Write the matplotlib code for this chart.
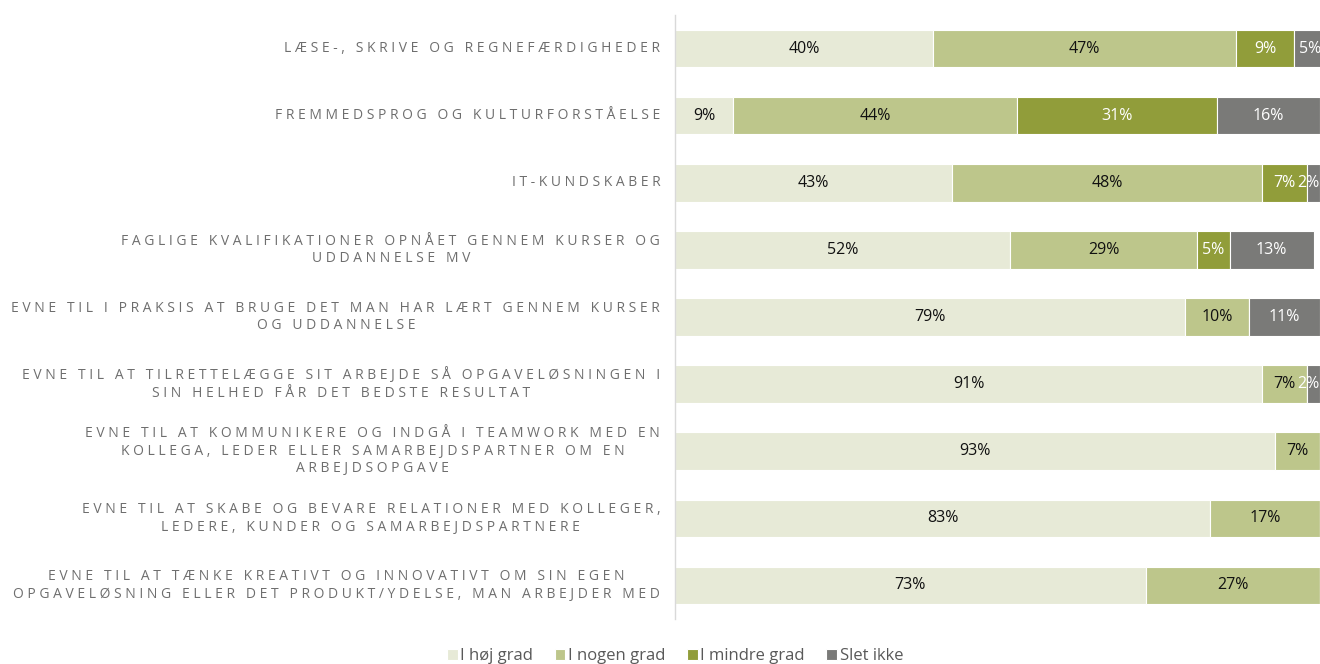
import matplotlib
matplotlib.use("Agg")
import matplotlib.pyplot as plt
import numpy as np

categories = [
    "LÆSE-, SKRIVE OG REGNEFÆRDIGHEDER",
    "FREMMEDSPROG OG KULTURFORSTÅELSE",
    "IT-KUNDSKABER",
    "FAGLIGE KVALIFIKATIONER OPNÅET GENNEM KURSER OG\nUDDANNELSE MV",
    "EVNE TIL I PRAKSIS AT BRUGE DET MAN HAR LÆRT GENNEM KURSER\nOG UDDANNELSE",
    "EVNE TIL AT TILRETTELÆGGE SIT ARBEJDE SÅ OPGAVELØSNINGEN I\nSIN HELHED FÅR DET BEDSTE RESULTAT",
    "EVNE TIL AT KOMMUNIKERE OG INDGÅ I TEAMWORK MED EN\nKOLLEGA, LEDER ELLER SAMARBEJDSPARTNER OM EN\nARBEJDSOPGAVE",
    "EVNE TIL AT SKABE OG BEVARE RELATIONER MED KOLLEGER,\nLEDERE, KUNDER OG SAMARBEJDSPARTNERE",
    "EVNE TIL AT TÆNKE KREATIVT OG INNOVATIVT OM SIN EGEN\nOPGAVELØSNING ELLER DET PRODUKT/YDELSE, MAN ARBEJDER MED",
]
series_names = ["I høj grad", "I nogen grad", "I mindre grad", "Slet ikke"]
hoej = [40, 9, 43, 52, 79, 91, 93, 83, 73]
nogen = [47, 44, 48, 29, 10, 7, 7, 17, 27]
mindre = [9, 31, 7, 5, 0, 0, 0, 0, 0]
slet = [5, 16, 2, 13, 11, 2, 0, 0, 0]

colors = ["#E7EAD7", "#BDC68B", "#919D3A", "#7A7A78"]
label_colors = ["#111111", "#111111", "#FFFFFF", "#FFFFFF"]

plt.rcParams["font.family"] = ["Open Sans", "DejaVu Sans"]

fig = plt.figure(figsize=(13.2, 6.64), dpi=100)
ax = fig.add_axes([675 / 1320, 1 - 619 / 664, 1 - 675 / 1320, 604 / 664])

y = np.arange(len(categories))
left = np.zeros(len(categories))
handles = []
for vals, col, tcol, name in zip([hoej, nogen, mindre, slet], colors, label_colors, series_names):
    vals = np.array(vals, dtype=float)
    bars = ax.barh(y, vals, left=left, height=0.56, color=col, edgecolor="white",
                   linewidth=0.8, label=name)
    handles.append(bars)
    for yi, (l, v) in enumerate(zip(left, vals)):
        if v <= 0:
            continue
        if v < 4:
            # narrow end segment: keep the label inside the plot edge
            ax.text(100, yi, f"{int(v)}%", ha="right", va="center",
                    fontsize=11.5, color=tcol)
        else:
            ax.text(l + v / 2, yi, f"{int(v)}%", ha="center", va="center",
                    fontsize=11.5, color=tcol)
    left += vals

ax.set_xlim(0, 100)
ax.set_ylim(len(categories) - 0.5, -0.5)
ax.set_xticks([])
ax.set_yticks([])
for s in ["top", "right", "bottom"]:
    ax.spines[s].set_visible(False)
ax.spines["left"].set_color("#D9D9D9")
ax.spines["left"].set_linewidth(1.0)


def tracked(s):
    # wide letter spacing for the category captions
    return "\n".join("\u2009\u200a".join(line) for line in s.split("\n"))


for yi, cat in enumerate(categories):
    ax.text(-0.023, yi, tracked(cat), transform=ax.get_yaxis_transform(),
            ha="right", va="center", multialignment="center",
            fontsize=10, color="#6E6E6E", linespacing=1.25)

fig.legend(handles=handles, labels=series_names, loc="center",
           bbox_to_anchor=(675 / 1320, 1 - 656 / 664), ncol=4, frameon=False,
           fontsize=12, handlelength=0.65, handleheight=0.65, handletextpad=0.15,
           columnspacing=1.3, labelcolor="#595959")

fig.savefig("out.png", dpi=100)
